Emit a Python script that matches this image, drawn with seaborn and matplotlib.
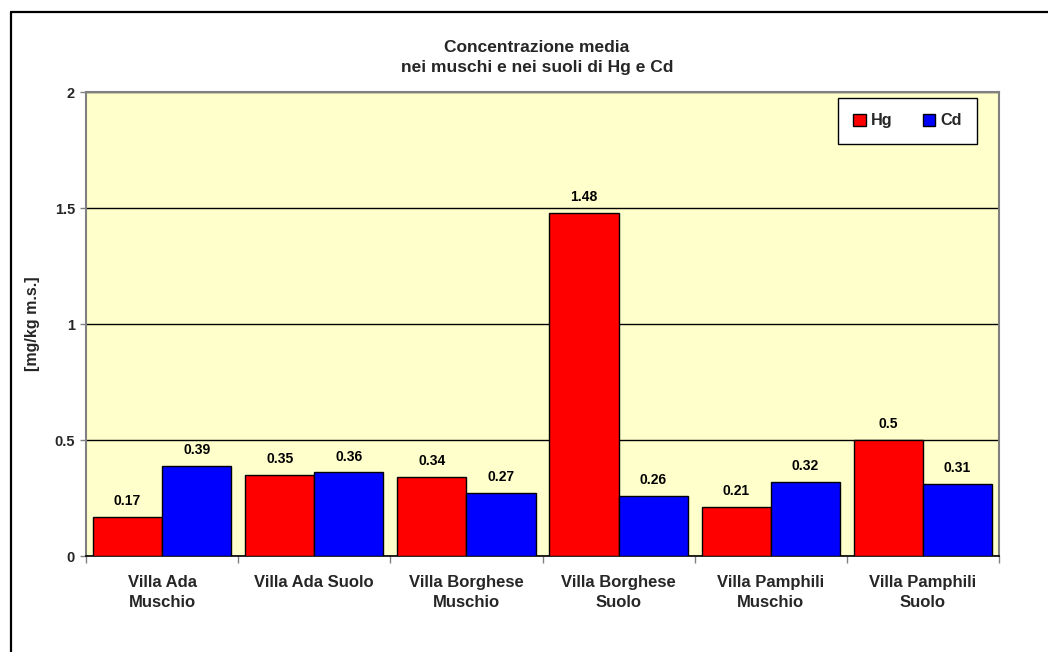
import matplotlib
matplotlib.use("Agg")
import matplotlib.pyplot as plt
from matplotlib.patches import Patch
from matplotlib.lines import Line2D
import seaborn as sns
import pandas as pd
import numpy as np

# Sampling sites and mean concentrations [mg/kg m.s.]
siti = ["Villa Ada\nMuschio", "Villa Ada Suolo", "Villa Borghese\nMuschio",
        "Villa Borghese\nSuolo", "Villa Pamphili\nMuschio", "Villa Pamphili\nSuolo"]
hg = [0.17, 0.35, 0.34, 1.48, 0.21, 0.5]
cd = [0.39, 0.36, 0.27, 0.26, 0.32, 0.31]
metalli = ["Hg", "Cd"]
colori = ["#FF0000", "#0000FF"]
y_ticks = [0, 0.5, 1, 1.5, 2]
y_tick_labels = ["0", "0.5", "1", "1.5", "2"]

df = pd.DataFrame({
    "sito": siti * 2,
    "metallo": ["Hg"] * len(siti) + ["Cd"] * len(siti),
    "valore": hg + cd,
})

sns.set_style("white")
plt.rcParams["font.family"] = ["Liberation Sans", "DejaVu Sans"]
plt.rcParams["font.weight"] = "bold"

W, H = 1048, 652
fig = plt.figure(figsize=(W / 100, H / 100), dpi=100)
fig.patch.set_facecolor("white")
ax = fig.add_axes([86 / W, 1 - 556 / H, (999 - 86) / W, (556 - 92) / H])
ax.set_facecolor("#FFFFCC")

sns.barplot(data=df, x="sito", y="valore", hue="metallo", hue_order=metalli,
            palette=colori, saturation=1, width=0.91, gap=0,
            edgecolor="black", linewidth=1.0, ax=ax, legend=False, zorder=3)

# value labels above each bar
for cont in ax.containers:
    for bar in cont:
        v = bar.get_height()
        ax.annotate(f"{v:g}", (bar.get_x() + bar.get_width() / 2, v),
                    xytext=(0, 11.5), textcoords="offset points",
                    ha="center", va="center", fontsize=10, fontweight="bold",
                    color="black")

ax.set_ylim(0, 2)
ax.set_xlim(-0.5, len(siti) - 0.5)
ax.set_yticks(y_ticks)
ax.set_yticklabels(y_tick_labels)
ax.yaxis.grid(True, color="black", linewidth=1.0, zorder=1)
ax.set_axisbelow(True)

ax.tick_params(axis="y", which="major", left=True, length=4, width=1,
               color="#808080", pad=4, labelsize=10.5)
ax.set_xticks(range(len(siti)))
ax.set_xticklabels(siti, fontsize=12, fontweight="bold", linespacing=1.38)
ax.tick_params(axis="x", which="major", length=0, pad=14)
ax.set_xticks(np.arange(-0.5, len(siti) + 0.5, 1), minor=True)
ax.tick_params(axis="x", which="minor", bottom=True, length=5, width=1,
               color="#808080")
for lab in ax.get_yticklabels():
    lab.set_fontweight("bold")

ax.set_xlabel("")
ax.set_ylabel("[mg/kg m.s.]", fontsize=11.5, fontweight="bold")
ax.yaxis.set_label_coords((40 - 86) / (999 - 86), 0.5)

for side in ["top", "right", "left"]:
    ax.spines[side].set_visible(True)
    ax.spines[side].set_color("#808080")
    ax.spines[side].set_linewidth(1.5)
ax.spines["bottom"].set_visible(True)
ax.spines["bottom"].set_color("black")
ax.spines["bottom"].set_linewidth(1.2)

fig.text(537 / W, 1 - 57.5 / H,
         "Concentrazione media\nnei muschi e nei suoli di Hg e Cd",
         ha="center", va="center", fontsize=12.5, fontweight="bold",
         linespacing=1.4)

handles = [Patch(facecolor=c, edgecolor="black", linewidth=1.0, label=m)
           for m, c in zip(metalli, colori)]
leg = ax.legend(handles=handles, ncol=2, loc="upper right",
                bbox_to_anchor=(977 / W, 1 - 98 / H),
                bbox_transform=fig.transFigure, borderaxespad=0,
                frameon=True, fancybox=False, framealpha=1,
                edgecolor="black", facecolor="white",
                prop={"size": 11.7, "weight": "bold"},
                handlelength=0.75, handleheight=0.75, handletextpad=0.3,
                columnspacing=1.9, borderpad=0.95)
leg.get_frame().set_linewidth(1.0)

# outer chart border (left and top edges)
fig.add_artist(Line2D([11 / W, 11 / W], [0, 1 - 12 / H], color="black",
                      linewidth=1.6, transform=fig.transFigure))
fig.add_artist(Line2D([11 / W, 1], [1 - 12 / H, 1 - 12 / H], color="black",
                      linewidth=1.6, transform=fig.transFigure))

fig.savefig("out.png", dpi=100)
